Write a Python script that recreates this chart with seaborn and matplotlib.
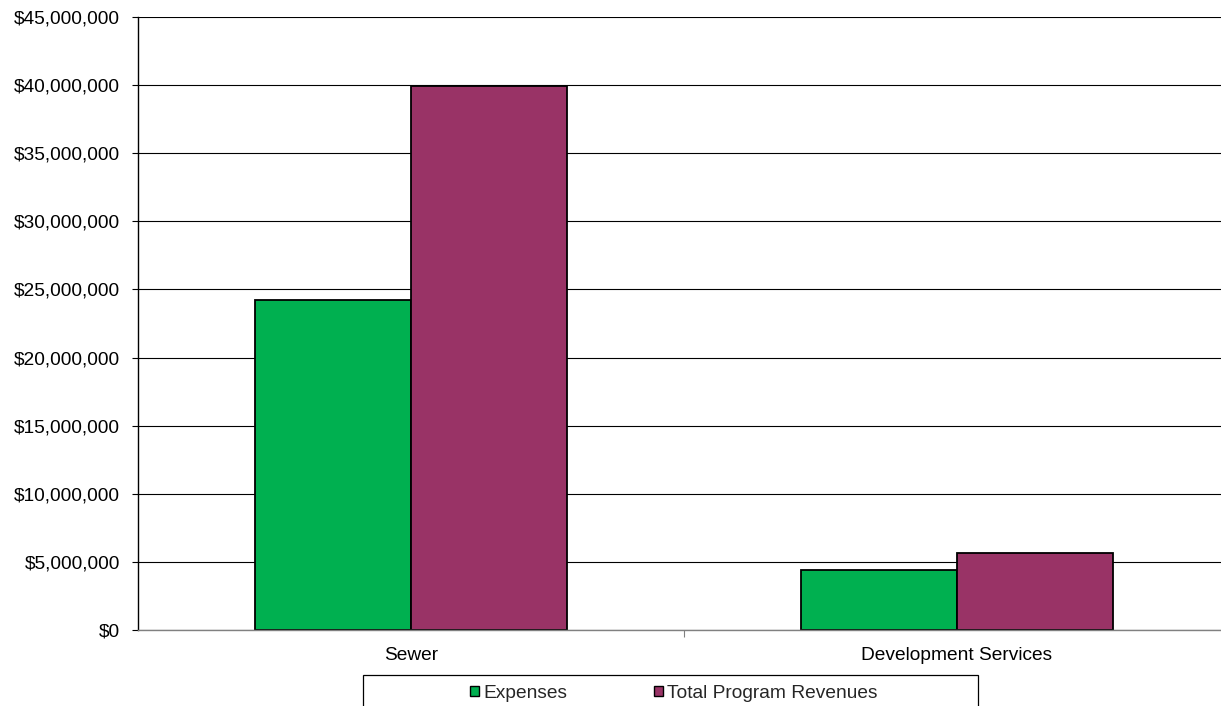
import matplotlib
matplotlib.use("Agg")
import matplotlib.pyplot as plt
import seaborn as sns
import pandas as pd
from matplotlib.ticker import FuncFormatter, FixedLocator, MultipleLocator
from matplotlib.patches import Rectangle, Patch

categories = ["Sewer", "Development Services"]
series_names = ["Expenses", "Total Program Revenues"]
expenses = [24_250_000, 4_410_000]
revenues = [39_950_000, 5_640_000]
colors = ["#00B050", "#993366"]

df = pd.DataFrame({
    "category": categories * 2,
    "series": [series_names[0]] * 2 + [series_names[1]] * 2,
    "value": expenses + revenues,
})

sns.set_theme(style="white")
plt.rcParams["font.family"] = ["Liberation Sans", "DejaVu Sans"]

W, H = 1221, 706
FS = 13.8
fig = plt.figure(figsize=(W / 100, H / 100), dpi=100)
ax = fig.add_axes([138 / W, (H - 630) / H, (1230 - 138) / W, (630 - 17) / H])

sns.barplot(data=df, x="category", y="value", hue="series", order=categories,
            hue_order=series_names, palette=colors, width=0.571, gap=0,
            edgecolor="black", linewidth=1.3, saturation=1, ax=ax, legend=False)

ax.set_xlim(-0.5, 1.5)
ax.set_ylim(0, 45_000_000)
ax.yaxis.set_major_locator(MultipleLocator(5_000_000))
ax.yaxis.set_major_formatter(FuncFormatter(lambda v, p: f"${v:,.0f}"))
ax.set_xlabel("")
ax.set_ylabel("")

ax.set_axisbelow(True)
ax.yaxis.grid(True, color="black", linewidth=0.8)
ax.xaxis.grid(False)

for s in ["top", "right"]:
    ax.spines[s].set_visible(False)
ax.spines["left"].set_color("black")
ax.spines["left"].set_linewidth(1.0)
ax.spines["bottom"].set_color("#808080")
ax.spines["bottom"].set_linewidth(1.0)

ax.tick_params(axis="y", which="major", left=True, length=4, width=0.8, color="black",
               direction="out", pad=9, labelsize=FS, labelcolor="black")
ax.tick_params(axis="x", which="major", bottom=False, length=0, pad=12.5,
               labelsize=FS, labelcolor="black")
ax.xaxis.set_minor_locator(FixedLocator([0.5]))
ax.tick_params(axis="x", which="minor", bottom=True, length=5, width=0.8,
               color="#808080", direction="out")

# legend
handles = [Patch(facecolor=c, edgecolor="black", linewidth=1.0) for c in colors]
leg = fig.legend(handles, series_names, loc="center", bbox_to_anchor=(674 / W, (H - 693) / H),
                 ncol=2, frameon=False, fontsize=FS, handlelength=0.45, handleheight=0.45,
                 handletextpad=0.25, columnspacing=4.5, borderpad=0)
fig.patches.append(Rectangle((363 / W, -0.02), (978 - 363) / W, (H - 675) / H + 0.02,
                             transform=fig.transFigure, fill=False, edgecolor="black",
                             linewidth=0.9))

fig.savefig("out.png", dpi=100)
